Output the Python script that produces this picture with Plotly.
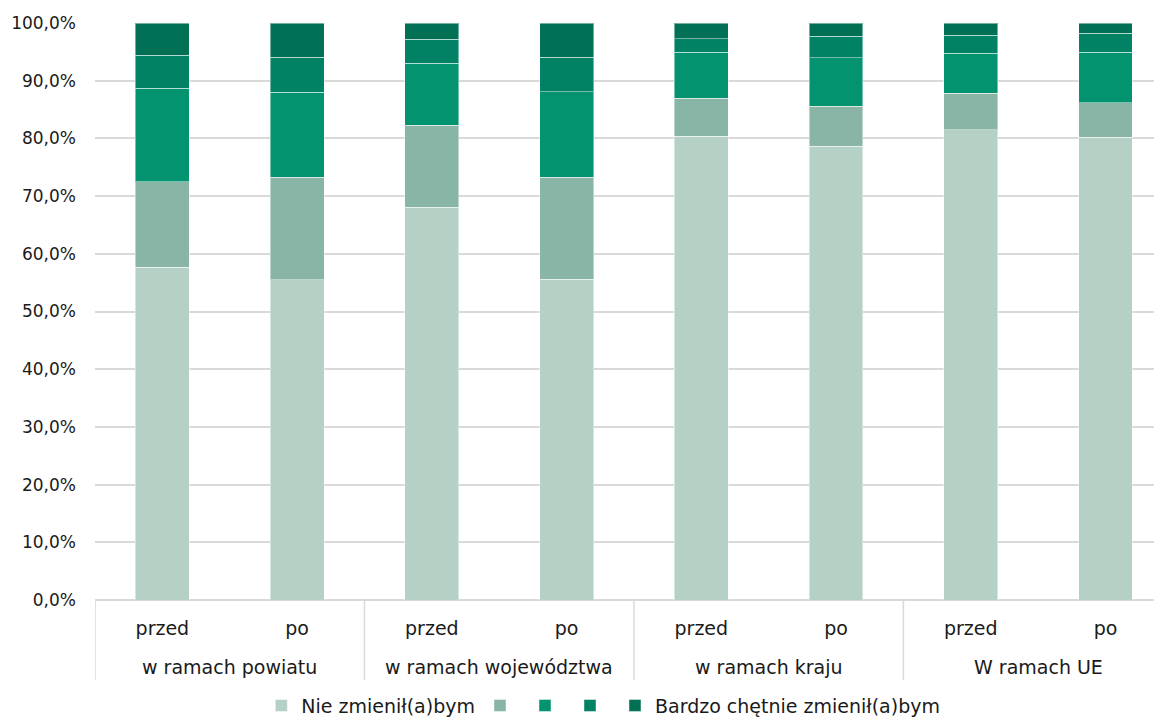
import plotly.graph_objects as go

group_names = ["w ramach powiatu", "w ramach województwa", "w ramach kraju", "W ramach UE"]
periods = ["przed", "po"] * 4
positions = list(range(len(periods)))

# share of answers (%), from "nie zmieniłbym" up to "bardzo chętnie zmieniłbym"
level1 = [57.7, 55.5, 68.1, 55.6, 80.4, 78.6, 81.5, 80.2]
level2 = [14.8, 17.8, 14.2, 17.7, 6.6, 7.0, 6.3, 6.0]
level3 = [16.2, 14.7, 10.7, 14.8, 7.9, 8.4, 7.0, 8.7]
level4 = [5.7, 6.1, 4.2, 6.0, 2.4, 3.7, 3.1, 3.3]
level5 = [5.6, 5.9, 2.8, 5.9, 2.7, 2.3, 2.1, 1.8]

series = [
    ("Nie zmienił(a)bym", level1, "#B5D0C5"),
    ("", level2, "#88B5A5"),
    ("", level3, "#03946F"),
    ("", level4, "#028265"),
    ("Bardzo chętnie zmienił(a)bym", level5, "#027055"),
]

fig = go.Figure()
for name, vals, color in series:
    fig.add_trace(go.Bar(
        x=positions,
        y=vals,
        name=name,
        marker=dict(color=color, line=dict(color="rgba(255,255,255,0.45)", width=1)),
        width=0.4,
    ))

# group labels under the przed/po pairs, plus divider lines between groups
for i, g in enumerate(group_names):
    fig.add_annotation(x=2 * i + 0.5, y=-0.116, xref="x", yref="paper",
                       text=g, showarrow=False, yanchor="middle",
                       font=dict(size=19))
    fig.add_shape(type="line", x0=2 * i - 0.5, x1=2 * i - 0.5, y0=0, y1=-0.139,
                  xref="x", yref="paper", line=dict(color="#D9D9D9", width=1.5))

# page body has an 8px margin, so the figure is sized to fit without scrollbars
fig.update_layout(
    barmode="stack",
    width=1146,
    height=711,
    margin=dict(l=87, r=0, t=15, b=119, autoexpand=False),
    plot_bgcolor="white",
    paper_bgcolor="white",
    font=dict(family="DejaVu Sans", size=16, color="#1a1a1a"),
    showlegend=True,
    legend=dict(orientation="h", x=0.48, xanchor="center", y=-0.183, yanchor="middle",
                font=dict(size=19), traceorder="normal"),
    xaxis=dict(
        range=[-0.5, 7.36],
        tickvals=positions,
        ticktext=periods,
        showgrid=False,
        zeroline=False,
        showline=False,
        ticks="",
        tickfont=dict(size=19),
        ticklabelstandoff=15,
        automargin=False,
    ),
    yaxis=dict(
        range=[0, 100],
        dtick=10,
        tickformat=".1f",
        ticksuffix="%",
        showgrid=True,
        gridcolor="#D9D9D9",
        gridwidth=1.5,
        zeroline=True,
        zerolinecolor="#D9D9D9",
        zerolinewidth=1.5,
        tickfont=dict(size=17),
        ticklabelstandoff=18,
        automargin=False,
    ),
    separators=", ",
)

fig.write_html("out.html")
